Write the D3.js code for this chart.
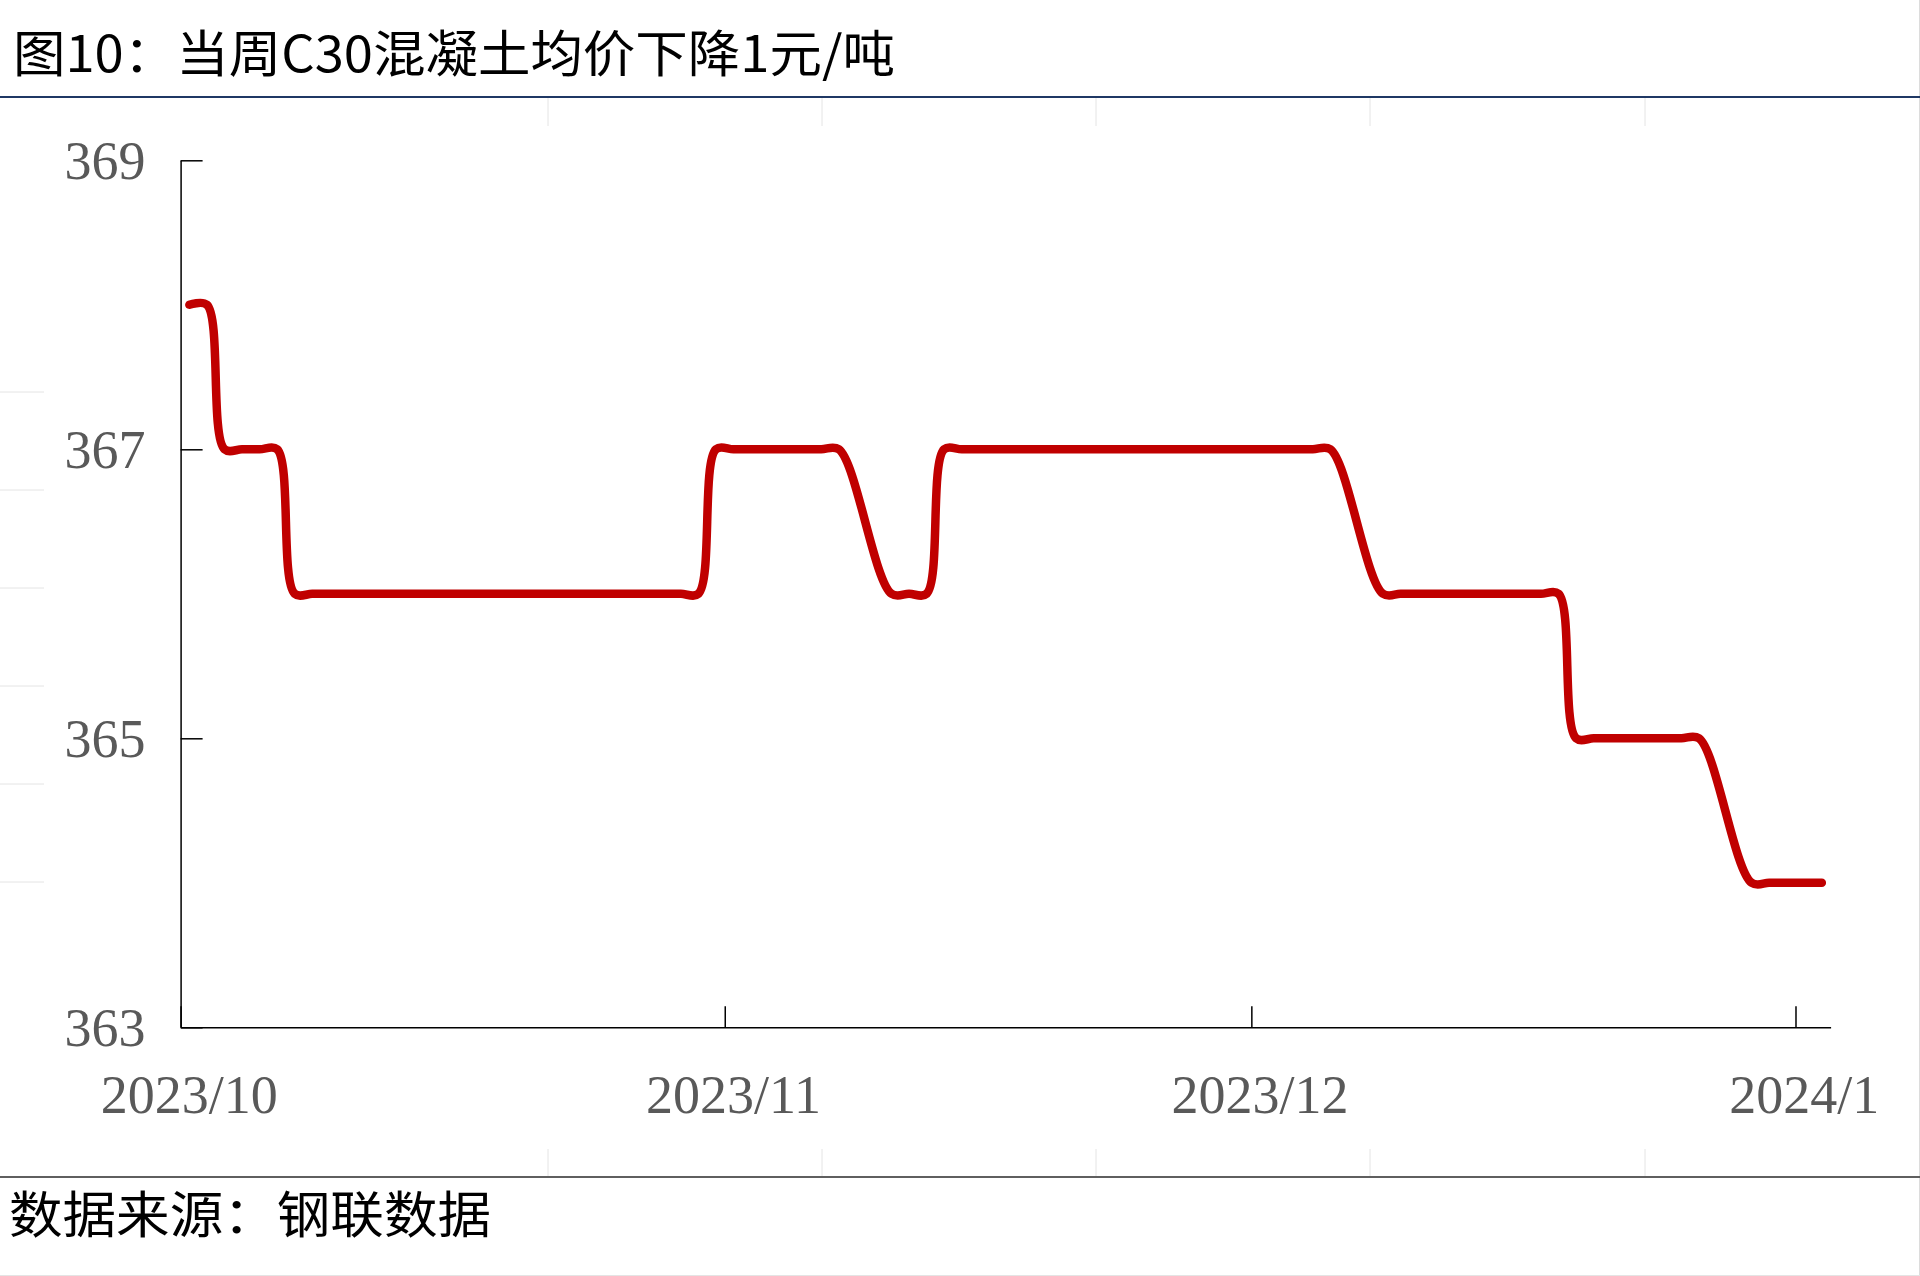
<!DOCTYPE html>
<html>
<head>
<meta charset="utf-8">
<script src="https://cdn.jsdelivr.net/npm/d3@7"></script>
<style>
  html, body { margin: 0; padding: 0; background: #fff; }
  svg { display: block; }
</style>
</head>
<body>
<svg id="chart" width="1920" height="1276"></svg>
<script>
// ---- data ----
const titleText = "图10：当周C30混凝土均价下降1元/吨";
const sourceText = "数据来源：钢联数据";
const dates = [
  "2023-10-01","2023-10-02","2023-10-03","2023-10-04","2023-10-05","2023-10-06","2023-10-07","2023-10-08",
  "2023-10-09","2023-10-10","2023-10-11","2023-10-12","2023-10-13","2023-10-14","2023-10-15","2023-10-16",
  "2023-10-17","2023-10-18","2023-10-19","2023-10-20","2023-10-21","2023-10-22","2023-10-23","2023-10-24",
  "2023-10-25","2023-10-26","2023-10-27","2023-10-28","2023-10-29","2023-10-30","2023-10-31",
  "2023-11-01","2023-11-02","2023-11-03","2023-11-04","2023-11-05","2023-11-06","2023-11-07",
  "2023-11-10","2023-11-11","2023-11-12","2023-11-13","2023-11-14","2023-11-15","2023-11-16","2023-11-17",
  "2023-11-18","2023-11-19","2023-11-20","2023-11-21","2023-11-22","2023-11-23","2023-11-24","2023-11-25",
  "2023-11-26","2023-11-27","2023-11-28","2023-11-29","2023-11-30",
  "2023-12-01","2023-12-02","2023-12-03","2023-12-04","2023-12-05",
  "2023-12-08","2023-12-09","2023-12-10","2023-12-11","2023-12-12","2023-12-13","2023-12-14","2023-12-15",
  "2023-12-16","2023-12-17","2023-12-18","2023-12-19","2023-12-20","2023-12-21","2023-12-22","2023-12-23",
  "2023-12-24","2023-12-25","2023-12-26","2023-12-29","2023-12-30","2023-12-31",
  "2024-01-01","2024-01-02"
];
const prices = [
  368,368,367,367,367,367,366,366,
  366,366,366,366,366,366,366,366,
  366,366,366,366,366,366,366,366,
  366,366,366,366,366,366,367,
  367,367,367,367,367,367,367,
  366,366,366,367,367,367,367,367,
  367,367,367,367,367,367,367,367,
  367,367,367,367,367,
  367,367,367,367,367,
  366,366,366,366,366,366,366,366,
  366,366,366,365,365,365,365,365,
  365,365,365,364,364,364,
  364,364
];
const yTicks = [363,365,367,369];
const xTickDates = ["2023-10-01","2023-11-01","2023-12-01","2024-01-01"];
const xTickLabels = ["2023/10","2023/11","2023/12","2024/1"];
const xDomain = ["2023-10-01","2024-01-03"];

// ---- layout ----
const svg = d3.select("#chart");
const parse = d3.timeParse("%Y-%m-%d");
const plotL = 180.6, plotR = 1830.6, plotT = 160.3, plotB = 1027.3;
const x = d3.scaleTime().domain(xDomain.map(parse)).range([plotL, plotR]);
const y = d3.scaleLinear().domain([363, 369]).range([plotB, plotT]);
const noon = d => d3.timeHour.offset(parse(d), 12);

// faint sheet cell lines
const cellCol = "#e4e4e4";
[548, 822, 1096, 1370, 1645].forEach(cx => {
  svg.append("line").attr("x1", cx).attr("x2", cx).attr("y1", 98).attr("y2", 126).attr("stroke", cellCol).attr("stroke-width", 1);
  svg.append("line").attr("x1", cx).attr("x2", cx).attr("y1", 1149).attr("y2", 1177).attr("stroke", cellCol).attr("stroke-width", 1);
});
[392, 490, 588, 686, 784, 882].forEach(cy => {
  svg.append("line").attr("x1", 0).attr("x2", 44).attr("y1", cy).attr("y2", cy).attr("stroke", cellCol).attr("stroke-width", 1);
});
svg.append("line").attr("x1", 1919.5).attr("x2", 1919.5).attr("y1", 0).attr("y2", 1276).attr("stroke", "#dcdcdc").attr("stroke-width", 1);
svg.append("line").attr("x1", 0).attr("x2", 1920).attr("y1", 1275.5).attr("y2", 1275.5).attr("stroke", "#e4e4e4").attr("stroke-width", 1);

// title
svg.append("text").attr("x", 13).attr("y", 72)
  .attr("font-family", "'Noto Sans CJK SC', sans-serif")
  .attr("font-size", 50).attr("fill", "#000")
  .attr("textLength", 882).attr("lengthAdjust", "spacingAndGlyphs")
  .text(titleText);
svg.append("line").attr("x1", 0).attr("x2", 1920).attr("y1", 97).attr("y2", 97)
  .attr("stroke", "#1f3864").attr("stroke-width", 2);

// source
svg.append("line").attr("x1", 0).attr("x2", 1920).attr("y1", 1177).attr("y2", 1177)
  .attr("stroke", "#5f5f5f").attr("stroke-width", 2);
svg.append("text").attr("x", 9).attr("y", 1233)
  .attr("font-family", "'Noto Sans CJK SC', sans-serif")
  .attr("font-size", 50).attr("fill", "#000")
  .attr("textLength", 482).attr("lengthAdjust", "spacingAndGlyphs")
  .text(sourceText);

// y axis
const yAxis = svg.append("g").attr("transform", `translate(${plotL},0)`)
  .call(d3.axisLeft(y).tickValues(yTicks).tickSize(-22).tickSizeOuter(0).tickPadding(35).tickFormat(d3.format("d")));
yAxis.select(".domain").attr("stroke", "#000").attr("stroke-width", 1.5);
yAxis.selectAll(".tick line").attr("stroke", "#000").attr("stroke-width", 1.5);
yAxis.selectAll(".tick text")
  .attr("font-family", "'Liberation Serif', 'Times New Roman', serif")
  .attr("font-size", 54).attr("fill", "#595959").attr("dy", "0.34em");

// x axis
const xAxis = svg.append("g").attr("transform", `translate(0,${plotB})`)
  .call(d3.axisBottom(x).tickValues(xTickDates.map(parse)).tickSize(-21).tickSizeOuter(0).tickFormat(""));
xAxis.select(".domain").attr("stroke", "#000").attr("stroke-width", 1.5);
xAxis.selectAll(".tick line").attr("stroke", "#000").attr("stroke-width", 1.5);
svg.append("g").selectAll("text").data(xTickDates).join("text")
  .attr("x", d => x(noon(d))).attr("y", 1113)
  .attr("text-anchor", "middle")
  .attr("font-family", "'Liberation Serif', 'Times New Roman', serif")
  .attr("font-size", 54).attr("fill", "#595959")
  .text((d, i) => xTickLabels[i]);

// line
const pts = dates.map((d, i) => [x(noon(d)), y(prices[i])]);
svg.append("path").datum(pts)
  .attr("d", d3.line().curve(d3.curveCatmullRom.alpha(0.5)))
  .attr("fill", "none").attr("stroke", "#c00000").attr("stroke-width", 8.5)
  .attr("stroke-linecap", "round").attr("stroke-linejoin", "round");
</script>
</body>
</html>
